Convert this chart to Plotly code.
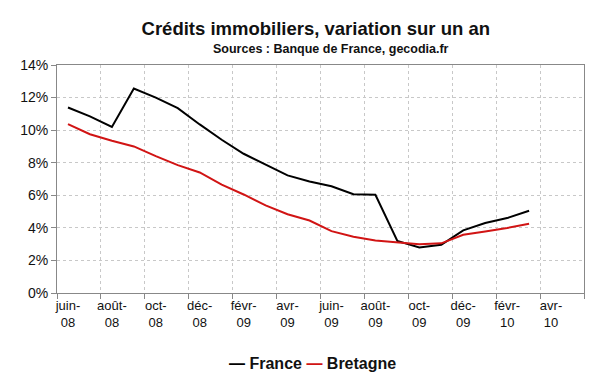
import plotly.graph_objects as go

months = ["juin-08","juil-08","août-08","sept-08","oct-08","nov-08","déc-08","janv-09",
          "févr-09","mars-09","avr-09","mai-09","juin-09","juil-09","août-09","sept-09",
          "oct-09","nov-09","déc-09","janv-10","févr-10","mars-10"]
france = [11.39, 10.85, 10.2, 12.55, 12.0, 11.35, 10.35, 9.41, 8.55, 7.9, 7.22, 6.85,
          6.55, 6.07, 6.03, 3.2, 2.8, 2.96, 3.85, 4.3, 4.6, 5.05]
bretagne = [10.37, 9.75, 9.35, 9.0, 8.4, 7.85, 7.4, 6.65, 6.05, 5.38, 4.84, 4.45,
            3.8, 3.45, 3.22, 3.1, 3.0, 3.05, 3.58, 3.78, 3.99, 4.25]
tick_labels = ["juin-<br>08","août-<br>08","oct-<br>08","déc-<br>08","févr-<br>09","avr-<br>09",
               "juin-<br>09","août-<br>09","oct-<br>09","déc-<br>09","févr-<br>10","avr-<br>10"]
y_ticks = [0, 2, 4, 6, 8, 10, 12, 14]

colors = {"France": "#000000", "Bretagne": "#d11414"}

xi = list(range(len(months)))
font = "Arial, Liberation Sans, sans-serif"

fig = go.Figure()
fig.add_trace(go.Scatter(x=xi, y=france, mode="lines", name="France",
                         line=dict(color=colors["France"], width=2)))
fig.add_trace(go.Scatter(x=xi, y=bretagne, mode="lines", name="Bretagne",
                         line=dict(color=colors["Bretagne"], width=2)))

legend_text = "<b>" + " ".join(
    f"<span style='color:{c}'>—</span> <span style='color:#111'>{n}</span>"
    for n, c in colors.items()) + "</b>"

fig.update_layout(
    width=600, height=372,
    margin=dict(l=46, r=24, t=57, b=87),
    paper_bgcolor="white", plot_bgcolor="white",
    font=dict(family=font, size=13, color="#111"),
    title=dict(text="<b>Crédits immobiliers, variation sur un an</b>",
               x=0.513, xanchor="center", y=0.946, yanchor="middle",
               font=dict(size=18.5, family=font, color="#111")),
    showlegend=False,
    annotations=[
        dict(text="<b>Sources : Banque de France, gecodia.fr</b>",
             xref="paper", yref="paper", x=0.52, y=1.07, yanchor="middle",
             xanchor="center", showarrow=False,
             font=dict(size=12.5, family=font, color="#111")),
        dict(text=legend_text, xref="paper", yref="paper", x=0.485, y=-0.311,
             xanchor="center", yanchor="middle", showarrow=False,
             font=dict(size=16, family=font, color="#111")),
    ],
)
fig.update_xaxes(
    range=[-0.5, 23.5], tickmode="array", tickvals=list(range(0, 24, 2)),
    ticktext=tick_labels, ticks="", showgrid=False, zeroline=False,
    showline=True, linecolor="#888", linewidth=1, mirror=True,
    tickfont=dict(size=13, family=font, color="#111"),
    minor=dict(tickmode="linear", tick0=-0.5, dtick=2, ticks="outside", ticklen=5,
               tickcolor="#888", showgrid=True, gridcolor="#c8c8c8", griddash="dot",
               gridwidth=1),
)
fig.update_yaxes(
    range=[0, 14], tickvals=y_ticks, ticktext=[f"{v}%" for v in y_ticks],
    ticks="outside", ticklen=5, tickcolor="#888",
    showgrid=True, gridcolor="#c8c8c8", griddash="dot", gridwidth=1,
    zeroline=False, showline=True, linecolor="#888", linewidth=1, mirror=True,
    tickfont=dict(size=14, family=font, color="#111"),
)

fig.write_html("out.html")
